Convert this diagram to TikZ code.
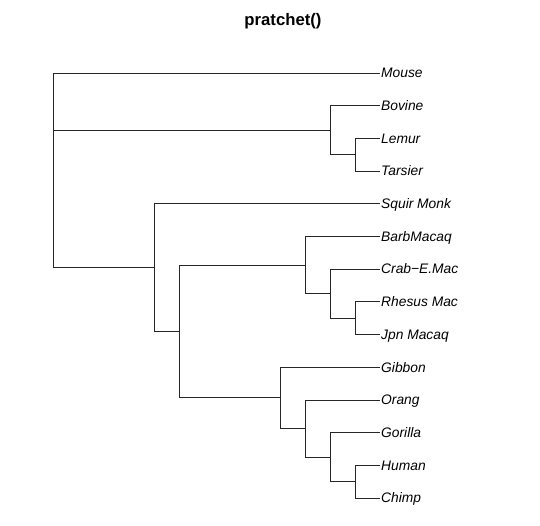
\documentclass[tikz,border=0pt]{standalone}
\usepackage{fontspec}
\setmainfont{Liberation Sans}
\begin{document}
\begin{tikzpicture}[x=1pt,y=-1pt,
  leaf/.style={anchor=west,inner xsep=1pt,inner ysep=0pt,text height=9.9pt,text depth=0pt,
    font=\fontsize{13.8}{16}\selectfont\itshape},
  edge/.style={draw=black!85,line width=0.8pt},
  ttl/.style={font=\fontsize{16.7}{20}\selectfont\bfseries}]
\useasboundingbox (0,0) rectangle (540,526);
\node[ttl] (title) at (283,21) {pratchet()};
% leaves
\node[leaf] (mouse)   at (380,73)    {Mouse};
\node[leaf] (bovine)  at (380,105.7) {Bovine};
\node[leaf] (lemur)   at (380,138.3) {Lemur};
\node[leaf] (tarsier) at (380,171)   {Tarsier};
\node[leaf] (squir)   at (380,203.7) {Squir Monk};
\node[leaf] (barb)    at (380,236.4) {BarbMacaq};
\node[leaf] (crab)    at (380,269)   {Crab−E.Mac};
\node[leaf] (rhesus)  at (380,301.8) {Rhesus Mac};
\node[leaf] (jpn)     at (380,334.5) {Jpn Macaq};
\node[leaf] (gibbon)  at (380,367.2) {Gibbon};
\node[leaf] (orang)   at (380,399.9) {Orang};
\node[leaf] (gorilla) at (380,432.6) {Gorilla};
\node[leaf] (human)   at (380,465.3) {Human};
\node[leaf] (chimp)   at (380,498)   {Chimp};
% internal nodes
\coordinate (lt)   at (355.7,154.65);
\coordinate (blt)  at (330,130.2);
\coordinate (rj)   at (355.7,318.15);
\coordinate (crj)  at (330,293.6);
\coordinate (mac)  at (305.3,265);
\coordinate (hc)   at (355.7,481.65);
\coordinate (ghc)  at (330,457.1);
\coordinate (oghc) at (305.3,428.5);
\coordinate (ape)  at (280,397.85);
\coordinate (ow)   at (179.7,331.4);
\coordinate (pri)  at (154.3,267.55);
\coordinate (root) at (53.7,130.2);
% edges
\path[edge] (lt) |- (lemur.west)  (lt) |- (tarsier.west);
\path[edge] (blt) |- (bovine.west) (blt) |- (lt);
\path[edge] (rj) |- (rhesus.west) (rj) |- (jpn.west);
\path[edge] (crj) |- (crab.west) (crj) |- (rj);
\path[edge] (mac) |- (barb.west) (mac) |- (crj);
\path[edge] (hc) |- (human.west) (hc) |- (chimp.west);
\path[edge] (ghc) |- (gorilla.west) (ghc) |- (hc);
\path[edge] (oghc) |- (orang.west) (oghc) |- (ghc);
\path[edge] (ape) |- (gibbon.west) (ape) |- (oghc);
\path[edge] (ow) |- (mac) (ow) |- (ape);
\path[edge] (pri) |- (squir.west) (pri) |- (ow);
\path[edge] (root) |- (mouse.west) (root) -- (blt) (root) |- (pri);
\end{tikzpicture}
\end{document}
